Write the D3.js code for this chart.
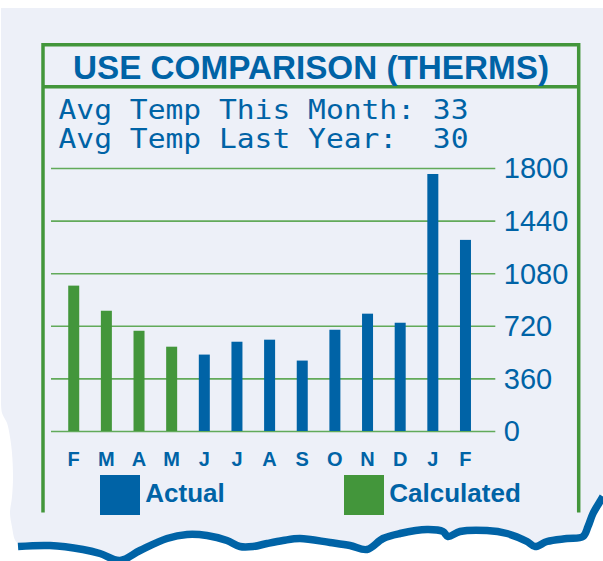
<!DOCTYPE html>
<html>
<head>
<meta charset="utf-8">
<script src="https://cdn.jsdelivr.net/npm/d3@7"></script>
<style>
  html, body { margin: 0; padding: 0; background: #ffffff; }
  svg { display: block; }
</style>
</head>
<body>
<svg id="chart" width="603" height="561"></svg>
<script>
// ---- data ----
const months = ["F", "M", "A", "M", "J", "J", "A", "S", "O", "N", "D", "J", "F"];
const usage = [995, 823, 686, 577, 523, 611, 625, 482, 693, 803, 741, 1759, 1308];
const kinds = ["Calculated", "Calculated", "Calculated", "Calculated", "Actual", "Actual", "Actual",
               "Actual", "Actual", "Actual", "Actual", "Actual", "Actual"];
const yTicks = [0, 360, 720, 1080, 1440, 1800];
const legendItems = ["Actual", "Calculated"];
const titleText = "USE COMPARISON (THERMS)";
const infoLines = ["Avg Temp This Month: 33", "Avg Temp Last Year:  30"];

// ---- style ----
const BLUE = "#0063a6";
const GREEN = "#43963b";
const GRID = "#62aa5a";
const BG = "#edf0f8";
const colorOf = d3.scaleOrdinal().domain(legendItems).range([BLUE, GREEN]);

const svg = d3.select("#chart");

// ---- torn-paper background ----
const waveTop = [
  [603, 493], [600, 498], [593, 510], [588, 523], [583, 533], [567, 535], [547, 538], [535, 543],
  [527, 538], [507, 530], [487, 527], [460, 528], [448, 533], [443, 528], [427, 526], [400, 530],
  [383, 535], [367, 546], [350, 542], [330, 539], [300, 535], [283, 537], [267, 540], [253, 543],
  [240, 543], [227, 537], [207, 532], [187, 531], [167, 535], [140, 547], [120, 557], [100, 550],
  [83, 546], [50, 542], [18, 543]
];
const leftEdge = [
  [18, 543], [15, 540], [12, 527], [10, 513], [12, 497], [13, 477], [12, 453], [10, 437], [7, 423],
  [2, 413], [1, 400]
];
const lineGen = d3.line().curve(d3.curveCatmullRom.alpha(0.5));
svg.append("path")
  .attr("d", d3.line()([[1, 8], [603, 8], [603, 493]]) +
        lineGen(waveTop.concat(leftEdge.slice(1))).replace(/^M/, "L") + "Z")
  .attr("fill", BG);
svg.append("path")
  .attr("d", lineGen(waveTop.map(p => [p[0], p[1] + 3.5])))
  .attr("fill", "none")
  .attr("stroke", BLUE)
  .attr("stroke-width", 7.5);

// ---- frame ----
const frameL = 43, frameR = 578.7, frameT = 44.8, frameB = 512.5, sepY = 86.7;
svg.append("path")
  .attr("d", `M${frameL},${frameB}V${frameT}H${frameR}V${frameB}`)
  .attr("fill", "none").attr("stroke", GREEN).attr("stroke-width", 3.5);
svg.append("line")
  .attr("x1", frameL).attr("x2", frameR).attr("y1", sepY).attr("y2", sepY)
  .attr("stroke", GREEN).attr("stroke-width", 3.5);

// ---- title ----
svg.append("text")
  .attr("x", 311).attr("y", 79)
  .attr("text-anchor", "middle")
  .attr("font-family", "'Liberation Sans', Arial, sans-serif")
  .attr("font-weight", "bold")
  .attr("font-size", 34)
  .attr("textLength", 476)
  .attr("lengthAdjust", "spacingAndGlyphs")
  .attr("fill", BLUE)
  .text(titleText);

// ---- info lines ----
svg.selectAll("text.info").data(infoLines).join("text")
  .attr("class", "info")
  .attr("x", 58.5)
  .attr("y", (d, i) => 119 + i * 29.3)
  .attr("font-family", "'DejaVu Sans Mono', 'Liberation Mono', monospace")
  .attr("font-size", 26)
  .attr("textLength", 410)
  .attr("lengthAdjust", "spacingAndGlyphs")
  .attr("fill", BLUE)
  .attr("xml:space", "preserve")
  .style("white-space", "pre")
  .text(d => d);

// ---- scales ----
const x = d3.scaleBand().domain(d3.range(months.length)).range([57.4, 481.8]).padding(0);
const y = d3.scaleLinear().domain([0, 1800]).range([431, 168]);
const barW = 11;
const gridL = 51, gridR = 495.3;

// ---- y axis with gridlines ----
const yAxis = d3.axisRight(y)
  .tickValues(yTicks)
  .tickSize(-(gridR - gridL))
  .tickPadding(8.5)
  .tickFormat(d3.format("d"));
const gAxis = svg.append("g").attr("transform", `translate(${gridR},0)`).call(yAxis);
gAxis.select(".domain").remove();
gAxis.selectAll(".tick line").attr("stroke", GRID).attr("stroke-width", 1.6);
gAxis.selectAll(".tick text")
  .attr("fill", BLUE)
  .attr("font-family", "'Liberation Sans', Arial, sans-serif")
  .attr("font-size", 29)
  .attr("dy", "0.34em");

// ---- bars ----
svg.append("g").selectAll("rect").data(usage).join("rect")
  .attr("x", (d, i) => x(i) + x.bandwidth() / 2 - barW / 2)
  .attr("width", barW)
  .attr("y", d => y(d))
  .attr("height", d => y(0) - y(d))
  .attr("fill", (d, i) => colorOf(kinds[i]));

// ---- month labels ----
svg.append("g").selectAll("text").data(months).join("text")
  .attr("x", (d, i) => x(i) + x.bandwidth() / 2)
  .attr("y", 465.7)
  .attr("text-anchor", "middle")
  .attr("font-family", "'Liberation Sans', Arial, sans-serif")
  .attr("font-weight", "bold")
  .attr("font-size", 20)
  .attr("fill", BLUE)
  .text(d => d);

// ---- legend ----
const legendX = [100, 344];
const lg = svg.append("g").selectAll("g").data(legendItems).join("g")
  .attr("transform", (d, i) => `translate(${legendX[i]},475)`);
lg.append("rect").attr("width", 40).attr("height", 40).attr("fill", d => colorOf(d));
lg.append("text")
  .attr("x", 45.3).attr("y", 27.3)
  .attr("font-family", "'Liberation Sans', Arial, sans-serif")
  .attr("font-weight", "bold")
  .attr("font-size", 26)
  .attr("fill", BLUE)
  .text(d => d);
</script>
</body>
</html>
